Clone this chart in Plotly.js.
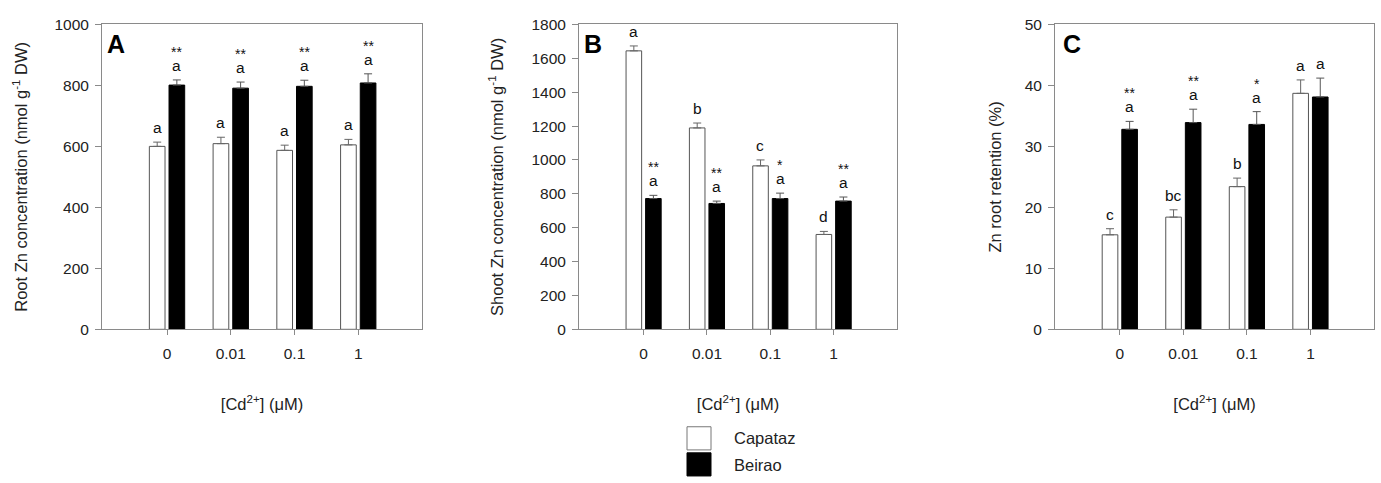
<!DOCTYPE html>
<html><head><meta charset="utf-8">
<script src="https://cdn.plot.ly/plotly-3.0.1.min.js"></script>
<style>html,body{margin:0;padding:0;background:#fff}</style>
</head><body><div id="chart" style="width:1381px;height:483px"></div>
<script>
const categories = ["0", "0.01", "0.1", "1"];
const seriesNames = ["Capataz", "Beirao"];

// Panel A: root Zn concentration (nmol g-1 DW)
const rootCapataz = [600, 609, 587, 605];
const rootCapatazErr = [14, 21, 17, 18];
const rootBeirao = [801, 791, 797, 808];
const rootBeiraoErr = [17, 20, 20, 30];
const rootCapLetters = ["a", "a", "a", "a"];
const rootBeiLetters = ["a", "a", "a", "a"];
const rootStars = ["**", "**", "**", "**"];

// Panel B: shoot Zn concentration (nmol g-1 DW)
const shootCapataz = [1644, 1189, 965, 560];
const shootCapatazErr = [29, 29, 35, 18];
const shootBeirao = [772, 743, 772, 757];
const shootBeiraoErr = [19, 14, 32, 24];
const shootCapLetters = ["a", "b", "c", "d"];
const shootBeiLetters = ["a", "a", "a", "a"];
const shootStars = ["**", "**", "*", "**"];

// Panel C: Zn root retention (%)
const retCapataz = [15.5, 18.4, 23.4, 38.7];
const retCapatazErr = [1.0, 1.2, 1.4, 2.2];
const retBeirao = [32.8, 33.9, 33.6, 38.1];
const retBeiraoErr = [1.3, 2.2, 2.1, 3.1];
const retCapLetters = ["c", "bc", "b", "a"];
const retBeiLetters = ["a", "a", "a", "a"];
const retStars = ["**", "**", "*", ""];

const panelLetters = ["A", "B", "C"];
const yTitles = ["Root Zn concentration (nmol g<sup>-1</sup> DW)",
                 "Shoot Zn concentration (nmol g<sup>-1</sup> DW)",
                 "Zn root retention (%)"];
const xTitle = "[Cd<sup>2+</sup>] (\u03bcM)";

const W = 1381, H = 483;
const FONT = "Liberation Sans, Arial, sans-serif";
const TICK = 15.5, TITLE = 16.5, LETTER = 15.5, STAR = 14;
const panels = [
  {cap: rootCapataz, capErr: rootCapatazErr, bei: rootBeirao, beiErr: rootBeiraoErr,
   capL: rootCapLetters, beiL: rootBeiLetters, stars: rootStars,
   x0: 102, x1: 422, yMax: 1000, dtick: 200, letterX: 105, ystand: 22},
  {cap: shootCapataz, capErr: shootCapatazErr, bei: shootBeirao, beiErr: shootBeiraoErr,
   capL: shootCapLetters, beiL: shootBeiLetters, stars: shootStars,
   x0: 579, x1: 897, yMax: 1800, dtick: 200, letterX: 582, ystand: 23},
  {cap: retCapataz, capErr: retCapatazErr, bei: retBeirao, beiErr: retBeiraoErr,
   capL: retCapLetters, beiL: retBeiLetters, stars: retStars,
   x0: 1055, x1: 1374, yMax: 50, dtick: 10, letterX: 1061, ystand: 18}
];
const plotTop = 16, plotBottom = 332;
const yDomain = [1 - plotBottom / H, 1 - plotTop / H];
const axisColor = "#8a8a8a";
const barShift = 9.9;

const data = [];
const annotations = [];
const layout = {
  width: W, height: H,
  margin: {l: 0, r: 0, t: 0, b: 0},
  paper_bgcolor: "#fff", plot_bgcolor: "#fff",
  showlegend: false,
  barmode: "group", bargap: 0.383, bargroupgap: 0.203,
  font: {family: FONT, color: "#222", size: TICK},
  shapes: [],
  annotations: annotations
};

panels.forEach((p, i) => {
  const sfx = i === 0 ? "" : String(i + 1);
  const xa = "x" + sfx, ya = "y" + sfx;
  data.push({
    type: "bar", name: seriesNames[0], x: categories, y: p.cap, xaxis: xa, yaxis: ya,
    marker: {color: "#ffffff", line: {color: "#555", width: 1}},
    error_y: {type: "data", symmetric: false, array: p.capErr, arrayminus: p.capErr.map(() => 0),
              color: "#666", thickness: 1, width: 4},
    hoverinfo: "x+y"
  });
  data.push({
    type: "bar", name: seriesNames[1], x: categories, y: p.bei, xaxis: xa, yaxis: ya,
    marker: {color: "#000000", line: {color: "#000", width: 1}},
    error_y: {type: "data", symmetric: false, array: p.beiErr, arrayminus: p.beiErr.map(() => 0),
              color: "#555", thickness: 1, width: 4},
    hoverinfo: "x+y"
  });
  layout["xaxis" + sfx] = {
    domain: [p.x0 / W, p.x1 / W], anchor: ya, type: "category",
    range: [-1.02, 4.0], showgrid: false, zeroline: false,
    showline: true, linecolor: axisColor, linewidth: 1, mirror: true,
    ticks: "outside", ticklen: 5, tickcolor: axisColor, tickwidth: 1,
    ticklabelstandoff: 5,
    tickfont: {family: FONT, size: TICK, color: "#222"},
    title: {text: xTitle, font: {family: FONT, size: TITLE, color: "#222"}, standoff: 37},
    automargin: true
  };
  layout["yaxis" + sfx] = {
    domain: yDomain, anchor: xa, range: [0, p.yMax], dtick: p.dtick, tick0: 0,
    showgrid: false, zeroline: false,
    showline: true, linecolor: axisColor, linewidth: 1, mirror: true,
    ticks: "outside", ticklen: 6, tickcolor: axisColor, tickwidth: 1,
    ticklabelstandoff: 3,
    tickfont: {family: FONT, size: TICK, color: "#222"},
    title: {text: yTitles[i], font: {family: FONT, size: TITLE, color: "#222"}, standoff: p.ystand},
    automargin: true
  };
  // panel letter
  annotations.push({
    xref: "paper", yref: "paper", x: p.letterX / W, y: 1 - 36.5 / H,
    xanchor: "left", yanchor: "middle", showarrow: false,
    text: "<b>" + panelLetters[i] + "</b>", font: {family: FONT, size: 25, color: "#000"}
  });
  categories.forEach((c, k) => {
    annotations.push({xref: xa, yref: ya, x: k, y: p.cap[k] + p.capErr[k], xshift: -barShift,
      yanchor: "bottom", yshift: 4, showarrow: false, text: p.capL[k],
      font: {family: FONT, size: LETTER, color: "#111"}});
    annotations.push({xref: xa, yref: ya, x: k, y: p.bei[k] + p.beiErr[k], xshift: barShift,
      yanchor: "bottom", yshift: 4, showarrow: false, text: p.beiL[k],
      font: {family: FONT, size: LETTER, color: "#111"}});
    if (p.stars[k]) {
      annotations.push({xref: xa, yref: ya, x: k, y: p.bei[k] + p.beiErr[k], xshift: barShift,
        yanchor: "bottom", yshift: 18, showarrow: false, text: p.stars[k],
        font: {family: FONT, size: STAR, color: "#111"}});
    }
  });
});

// Legend (drawn manually with large swatches)
const legendItems = [
  {name: seriesNames[0], fill: "#ffffff", line: "#777", top: 433, bottom: 457, textY: 445},
  {name: seriesNames[1], fill: "#000000", line: "#000", top: 460, bottom: 484, textY: 473}
];
legendItems.forEach(it => {
  layout.shapes.push({type: "rect", xref: "paper", yref: "paper",
    x0: 687 / W, x1: 711 / W, y0: 1 - it.bottom / H, y1: 1 - it.top / H,
    fillcolor: it.fill, line: {color: it.line, width: 1}});
  annotations.push({xref: "paper", yref: "paper", x: 732 / W, y: 1 - it.textY / H,
    xanchor: "left", yanchor: "middle", showarrow: false, text: it.name,
    font: {family: FONT, size: TITLE, color: "#222"}});
});

Plotly.newPlot("chart", data, layout, {displayModeBar: false, staticPlot: true});
</script>
</body></html>
